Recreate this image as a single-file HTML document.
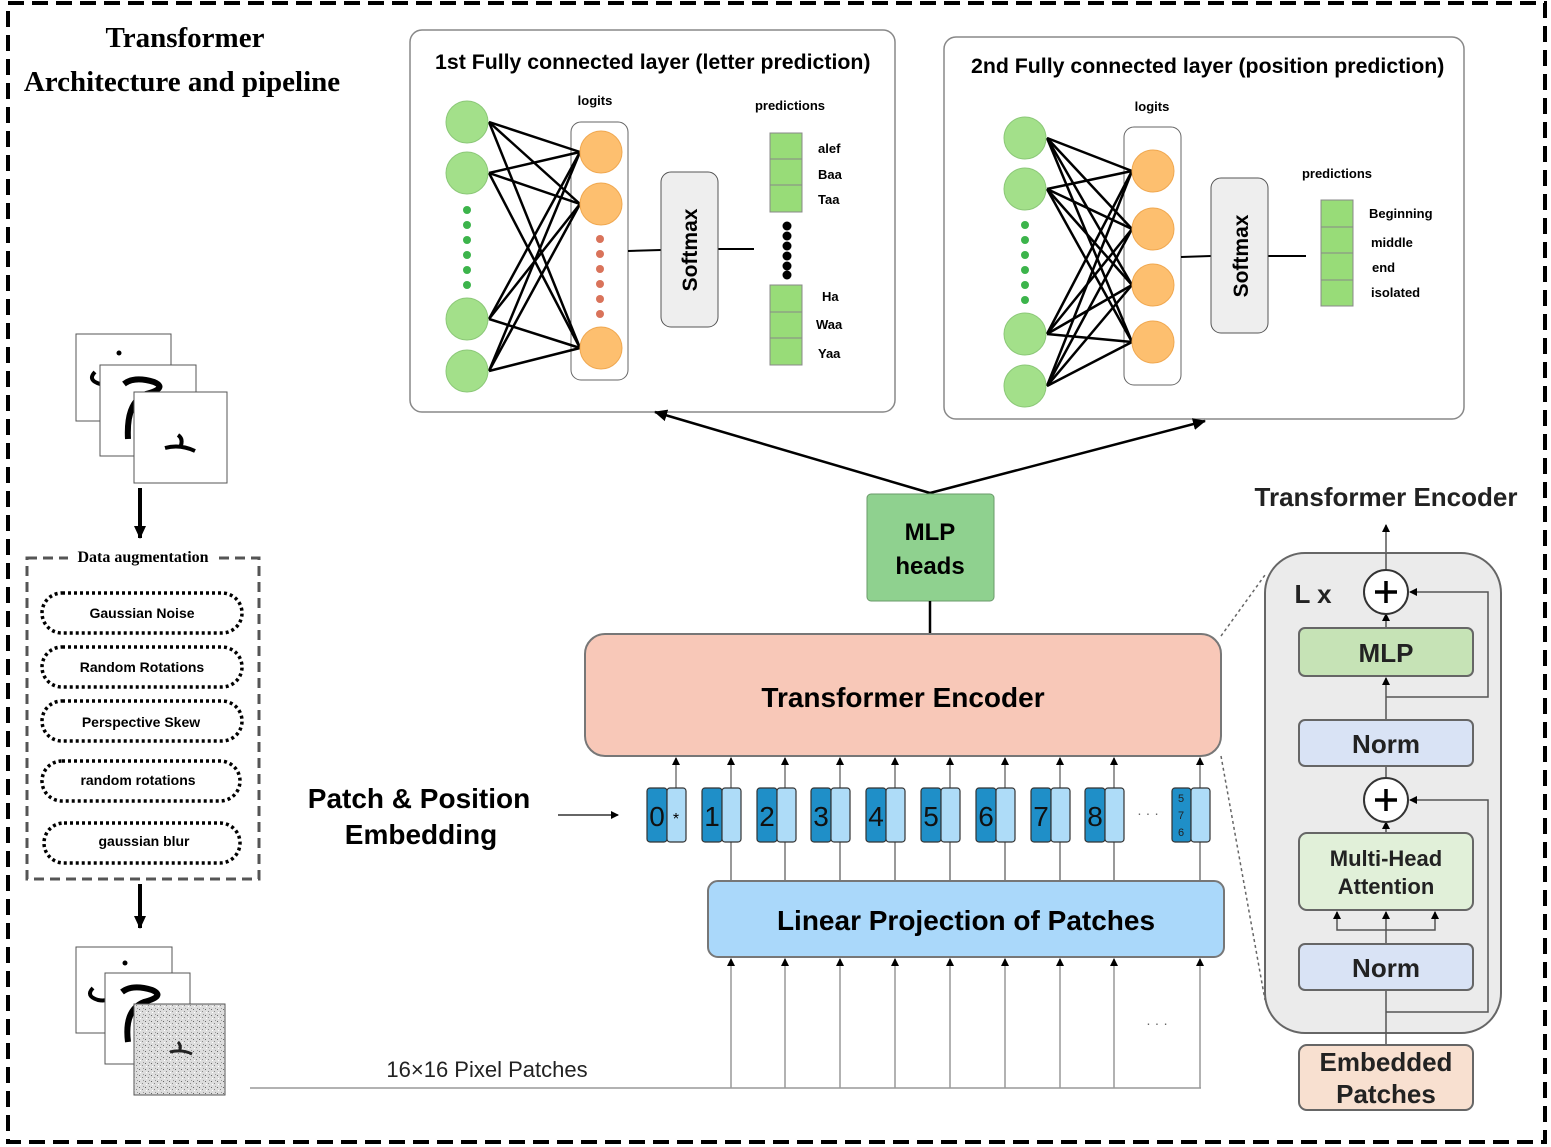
<!DOCTYPE html>
<html><head><meta charset="utf-8"><style>
html,body{margin:0;padding:0;background:#fff;}
svg{display:block;}
.s{font-family:"Liberation Sans",sans-serif;}
.r{font-family:"Liberation Serif",serif;}
</style></head><body>
<svg width="1551" height="1147" viewBox="0 0 1551 1147" xmlns="http://www.w3.org/2000/svg">
<defs>
<marker id="ah" markerWidth="8" markerHeight="8" refX="7" refY="4" orient="auto" markerUnits="userSpaceOnUse"><path d="M0,0 L8,4 L0,8 z" fill="#000"/></marker>
<marker id="ahb" markerWidth="14" markerHeight="14" refX="12" refY="7" orient="auto" markerUnits="userSpaceOnUse"><path d="M0,1 L13,7 L0,13 z" fill="#000"/></marker>
<pattern id="noise" width="6" height="6" patternUnits="userSpaceOnUse"><rect width="6" height="6" fill="#ddd"/><rect x="1" y="1" width="1" height="1" fill="#666"/><rect x="4" y="3" width="1" height="1" fill="#888"/><rect x="2" y="4" width="1" height="1" fill="#fff"/><rect x="5" y="0" width="1" height="1" fill="#999"/></pattern>
</defs>
<rect x="8" y="3" width="1537" height="1139" fill="none" stroke="#000" stroke-width="4" stroke-dasharray="16,8"/>

<text class="r" x="185" y="47" font-size="29" font-weight="bold" text-anchor="middle">Transformer</text>
<text class="r" x="182" y="91" font-size="29" font-weight="bold" text-anchor="middle">Architecture and pipeline</text>

<rect x="76" y="334" width="95" height="87" fill="#fff" stroke="#555"/>
<path d="M95,372 q-8,8 5,12 q10,2 15,-4" fill="none" stroke="#000" stroke-width="4"/>
<circle cx="119" cy="353" r="2.5"/>
<rect x="100" y="365" width="96" height="91" fill="#fff" stroke="#555"/>
<path d="M124,384 q10,-8 30,-2 q14,6 -8,12 q-20,8 -18,45" fill="none" stroke="#000" stroke-width="6"/>
<rect x="134" y="392" width="93" height="91" fill="#fff" stroke="#555"/>
<path d="M165,448 q15,-4 30,3 M178,435 q6,4 2,13" fill="none" stroke="#000" stroke-width="4"/>
<line x1="140" y1="488" x2="140" y2="538" stroke="#000" stroke-width="4" marker-end="url(#ahb)"/>

<rect x="27" y="558" width="232" height="321" fill="none" stroke="#555" stroke-width="3" stroke-dasharray="10,6"/>
<rect x="68" y="546" width="150" height="20" fill="#fff"/>
<text class="r" x="143" y="562" font-size="16" font-weight="bold" text-anchor="middle">Data augmentation</text>
<g stroke="#000" stroke-width="3.5" stroke-dasharray="3,3" fill="none">
<rect x="42" y="593" width="200" height="40" rx="20"/>
<rect x="42" y="647" width="200" height="40" rx="20"/>
<rect x="42" y="701" width="200" height="40" rx="20"/>
<rect x="42" y="761" width="198" height="40" rx="20"/>
<rect x="44" y="823" width="196" height="40" rx="20"/>
</g>
<g class="s" font-size="14" font-weight="bold" text-anchor="middle">
<text x="142" y="618">Gaussian Noise</text>
<text x="142" y="672">Random Rotations</text>
<text x="141" y="727">Perspective Skew</text>
<text x="138" y="785">random rotations</text>
<text x="144" y="846">gaussian blur</text>
</g>
<line x1="140" y1="884" x2="140" y2="928" stroke="#000" stroke-width="4" marker-end="url(#ahb)"/>

<rect x="76" y="947" width="96" height="86" fill="#fff" stroke="#555"/>
<path d="M93,988 q-8,8 5,12 q10,2 15,-4" fill="none" stroke="#000" stroke-width="4"/>
<circle cx="125" cy="963" r="2.5"/>
<rect x="105" y="973" width="85" height="91" fill="#fff" stroke="#555"/>
<path d="M122,992 q10,-8 30,-2 q14,6 -8,12 q-20,8 -16,40" fill="none" stroke="#000" stroke-width="6"/>
<rect x="134" y="1004" width="91" height="91" fill="url(#noise)" stroke="#555"/>
<path d="M170,1052 q12,-3 22,2 M178,1042 q4,4 1,10" fill="none" stroke="#222" stroke-width="3"/>

<rect x="410" y="30" width="485" height="382" rx="12" fill="#fff" stroke="#888" stroke-width="1.5"/>
<text class="s" x="435" y="69" font-size="21.3" font-weight="bold">1st Fully connected layer (letter prediction)</text>
<text class="s" x="595" y="105" font-size="13" font-weight="bold" text-anchor="middle">logits</text>
<text class="s" x="790" y="110" font-size="13" font-weight="bold" text-anchor="middle">predictions</text>
<rect x="571" y="122" width="57" height="258" rx="10" fill="#fff" stroke="#666"/>
<g stroke="#000" stroke-width="2.5">
<line x1="489" y1="122" x2="580" y2="152"/><line x1="489" y1="122" x2="580" y2="204"/><line x1="489" y1="122" x2="580" y2="348"/>
<line x1="489" y1="173" x2="580" y2="152"/><line x1="489" y1="173" x2="580" y2="204"/><line x1="489" y1="173" x2="580" y2="348"/>
<line x1="489" y1="319" x2="580" y2="152"/><line x1="489" y1="319" x2="580" y2="204"/><line x1="489" y1="319" x2="580" y2="348"/>
<line x1="489" y1="371" x2="580" y2="152"/><line x1="489" y1="371" x2="580" y2="204"/><line x1="489" y1="371" x2="580" y2="348"/>
</g>
<g fill="#a3e08a" stroke="#8cc878"><circle cx="467" cy="122" r="21"/><circle cx="467" cy="173" r="21"/><circle cx="467" cy="319" r="21"/><circle cx="467" cy="371" r="21"/></g>
<g fill="#3cb44b"><circle cx="467" cy="210" r="4"/><circle cx="467" cy="225" r="4"/><circle cx="467" cy="240" r="4"/><circle cx="467" cy="255" r="4"/><circle cx="467" cy="270" r="4"/><circle cx="467" cy="285" r="4"/></g>
<g fill="#fdbf6f" stroke="#f0a850"><circle cx="601" cy="152" r="21"/><circle cx="601" cy="204" r="21"/><circle cx="601" cy="348" r="21"/></g>
<g fill="#d9735a"><circle cx="600" cy="239" r="4"/><circle cx="600" cy="254" r="4"/><circle cx="600" cy="269" r="4"/><circle cx="600" cy="284" r="4"/><circle cx="600" cy="299" r="4"/><circle cx="600" cy="314" r="4"/></g>
<line x1="628" y1="251" x2="661" y2="250" stroke="#000" stroke-width="2"/>
<line x1="718" y1="249" x2="754" y2="249" stroke="#000" stroke-width="2"/>
<rect x="661" y="172" width="57" height="155" rx="10" fill="#eee" stroke="#555"/>
<text class="s" font-size="21" font-weight="bold" text-anchor="middle" transform="translate(697,250) rotate(-90)">Softmax</text>
<g fill="#98dc78" stroke="#888"><rect x="770" y="133" width="32" height="26"/><rect x="770" y="159" width="32" height="26"/><rect x="770" y="185" width="32" height="27"/>
<rect x="770" y="285" width="32" height="27"/><rect x="770" y="312" width="32" height="26"/><rect x="770" y="338" width="32" height="27"/></g>
<g fill="#000"><circle cx="787" cy="226" r="4.5"/><circle cx="787" cy="236" r="4.5"/><circle cx="787" cy="246" r="4.5"/><circle cx="787" cy="256" r="4.5"/><circle cx="787" cy="266" r="4.5"/><circle cx="787" cy="275" r="4.5"/></g>
<g class="s" font-size="13" font-weight="bold"><text x="818" y="153">alef</text><text x="818" y="179">Baa</text><text x="818" y="204">Taa</text><text x="822" y="301">Ha</text><text x="816" y="329">Waa</text><text x="818" y="358">Yaa</text></g>

<rect x="944" y="37" width="520" height="382" rx="12" fill="#fff" stroke="#888" stroke-width="1.5"/>
<text class="s" x="971" y="73" font-size="21.3" font-weight="bold">2nd Fully connected layer (position prediction)</text>
<text class="s" x="1152" y="111" font-size="13" font-weight="bold" text-anchor="middle">logits</text>
<text class="s" x="1337" y="178" font-size="13" font-weight="bold" text-anchor="middle">predictions</text>
<rect x="1124" y="127" width="57" height="258" rx="10" fill="#fff" stroke="#666"/>
<g stroke="#000" stroke-width="2.5">
<line x1="1047" y1="138" x2="1132" y2="171"/><line x1="1047" y1="138" x2="1132" y2="229"/><line x1="1047" y1="138" x2="1132" y2="285"/><line x1="1047" y1="138" x2="1132" y2="342"/>
<line x1="1047" y1="189" x2="1132" y2="171"/><line x1="1047" y1="189" x2="1132" y2="229"/><line x1="1047" y1="189" x2="1132" y2="285"/><line x1="1047" y1="189" x2="1132" y2="342"/>
<line x1="1047" y1="334" x2="1132" y2="171"/><line x1="1047" y1="334" x2="1132" y2="229"/><line x1="1047" y1="334" x2="1132" y2="285"/><line x1="1047" y1="334" x2="1132" y2="342"/>
<line x1="1047" y1="386" x2="1132" y2="171"/><line x1="1047" y1="386" x2="1132" y2="229"/><line x1="1047" y1="386" x2="1132" y2="285"/><line x1="1047" y1="386" x2="1132" y2="342"/>
</g>
<g fill="#a3e08a" stroke="#8cc878"><circle cx="1025" cy="138" r="21"/><circle cx="1025" cy="189" r="21"/><circle cx="1025" cy="334" r="21"/><circle cx="1025" cy="386" r="21"/></g>
<g fill="#3cb44b"><circle cx="1025" cy="225" r="4"/><circle cx="1025" cy="240" r="4"/><circle cx="1025" cy="255" r="4"/><circle cx="1025" cy="270" r="4"/><circle cx="1025" cy="285" r="4"/><circle cx="1025" cy="300" r="4"/></g>
<g fill="#fdbf6f" stroke="#f0a850"><circle cx="1153" cy="171" r="21"/><circle cx="1153" cy="229" r="21"/><circle cx="1153" cy="285" r="21"/><circle cx="1153" cy="342" r="21"/></g>
<line x1="1181" y1="257" x2="1211" y2="256" stroke="#000" stroke-width="2"/>
<line x1="1268" y1="256" x2="1306" y2="256" stroke="#000" stroke-width="2"/>
<rect x="1211" y="178" width="57" height="155" rx="10" fill="#eee" stroke="#555"/>
<text class="s" font-size="21" font-weight="bold" text-anchor="middle" transform="translate(1248,256) rotate(-90)">Softmax</text>
<g fill="#98dc78" stroke="#888"><rect x="1321" y="200" width="32" height="27"/><rect x="1321" y="227" width="32" height="26"/><rect x="1321" y="253" width="32" height="27"/><rect x="1321" y="280" width="32" height="26"/></g>
<g class="s" font-size="13" font-weight="bold"><text x="1369" y="218">Beginning</text><text x="1371" y="247">middle</text><text x="1372" y="272">end</text><text x="1371" y="297">isolated</text></g>

<line x1="930" y1="493" x2="655" y2="412" stroke="#000" stroke-width="2.5" marker-end="url(#ahb)"/>
<line x1="930" y1="493" x2="1205" y2="421" stroke="#000" stroke-width="2.5" marker-end="url(#ahb)"/>
<rect x="867" y="494" width="127" height="107" rx="4" fill="#8fd18f" stroke="#6a9a6a"/>
<text class="s" x="930" y="540" font-size="24" font-weight="bold" text-anchor="middle">MLP</text>
<text class="s" x="930" y="574" font-size="24" font-weight="bold" text-anchor="middle">heads</text>
<line x1="930" y1="601" x2="930" y2="634" stroke="#000" stroke-width="2.5"/>

<rect x="585" y="634" width="636" height="122" rx="20" fill="#f8c8b8" stroke="#777" stroke-width="2"/>
<text class="s" x="903" y="707" font-size="28" font-weight="bold" text-anchor="middle">Transformer Encoder</text>
<g stroke="#777" stroke-width="1.5" marker-end="url(#ah)">
<line x1="676" y1="788" x2="676" y2="758"/><line x1="731" y1="788" x2="731" y2="758"/><line x1="785" y1="788" x2="785" y2="758"/><line x1="840" y1="788" x2="840" y2="758"/><line x1="895" y1="788" x2="895" y2="758"/><line x1="950" y1="788" x2="950" y2="758"/><line x1="1005" y1="788" x2="1005" y2="758"/><line x1="1060" y1="788" x2="1060" y2="758"/><line x1="1114" y1="788" x2="1114" y2="758"/><line x1="1200" y1="788" x2="1200" y2="758"/>
</g>
<g stroke="#777" stroke-width="1.5">
<line x1="731" y1="842" x2="731" y2="881"/><line x1="785" y1="842" x2="785" y2="881"/><line x1="840" y1="842" x2="840" y2="881"/><line x1="895" y1="842" x2="895" y2="881"/><line x1="950" y1="842" x2="950" y2="881"/><line x1="1005" y1="842" x2="1005" y2="881"/><line x1="1060" y1="842" x2="1060" y2="881"/><line x1="1114" y1="842" x2="1114" y2="881"/><line x1="1200" y1="842" x2="1200" y2="881"/>
</g>
<g stroke="#333" stroke-width="1.2">
<rect x="647" y="788" width="20" height="54" rx="3" fill="#1f8fc8"/><rect x="667" y="788" width="19" height="54" rx="3" fill="#aedcf8"/>
<rect x="702" y="788" width="20" height="54" rx="3" fill="#1f8fc8"/><rect x="722" y="788" width="19" height="54" rx="3" fill="#aedcf8"/>
<rect x="757" y="788" width="20" height="54" rx="3" fill="#1f8fc8"/><rect x="777" y="788" width="19" height="54" rx="3" fill="#aedcf8"/>
<rect x="811" y="788" width="20" height="54" rx="3" fill="#1f8fc8"/><rect x="831" y="788" width="19" height="54" rx="3" fill="#aedcf8"/>
<rect x="866" y="788" width="20" height="54" rx="3" fill="#1f8fc8"/><rect x="886" y="788" width="19" height="54" rx="3" fill="#aedcf8"/>
<rect x="921" y="788" width="20" height="54" rx="3" fill="#1f8fc8"/><rect x="941" y="788" width="19" height="54" rx="3" fill="#aedcf8"/>
<rect x="976" y="788" width="20" height="54" rx="3" fill="#1f8fc8"/><rect x="996" y="788" width="19" height="54" rx="3" fill="#aedcf8"/>
<rect x="1031" y="788" width="20" height="54" rx="3" fill="#1f8fc8"/><rect x="1051" y="788" width="19" height="54" rx="3" fill="#aedcf8"/>
<rect x="1085" y="788" width="20" height="54" rx="3" fill="#1f8fc8"/><rect x="1105" y="788" width="19" height="54" rx="3" fill="#aedcf8"/>
<rect x="1172" y="788" width="19" height="54" rx="3" fill="#1f8fc8"/><rect x="1191" y="788" width="19" height="54" rx="3" fill="#aedcf8"/>
</g>
<g class="s" font-size="28" fill="#111" text-anchor="middle">
<text x="657" y="826">0</text><text x="712" y="826">1</text><text x="767" y="826">2</text><text x="821" y="826">3</text><text x="876" y="826">4</text><text x="931" y="826">5</text><text x="986" y="826">6</text><text x="1041" y="826">7</text><text x="1095" y="826">8</text>
</g>
<text class="s" x="676" y="824" font-size="16" text-anchor="middle">*</text>
<g class="s" font-size="11" fill="#222" text-anchor="middle"><text x="1181" y="802">5</text><text x="1181" y="819">7</text><text x="1181" y="836">6</text></g>
<text class="s" x="1148" y="818" font-size="14" fill="#666" text-anchor="middle">· · ·</text>

<text class="s" x="419" y="808" font-size="28" font-weight="bold" text-anchor="middle">Patch &amp; Position</text>
<text class="s" x="421" y="844" font-size="28" font-weight="bold" text-anchor="middle">Embedding</text>
<line x1="558" y1="815" x2="618" y2="815" stroke="#333" stroke-width="1.5" marker-end="url(#ah)"/>

<rect x="708" y="881" width="516" height="76" rx="10" fill="#aad8fa" stroke="#777" stroke-width="2"/>
<text class="s" x="966" y="930" font-size="28" font-weight="bold" text-anchor="middle">Linear Projection of Patches</text>
<g stroke="#999" stroke-width="1.5" marker-end="url(#ah)">
<line x1="731" y1="1088" x2="731" y2="959"/><line x1="785" y1="1088" x2="785" y2="959"/><line x1="840" y1="1088" x2="840" y2="959"/><line x1="895" y1="1088" x2="895" y2="959"/><line x1="950" y1="1088" x2="950" y2="959"/><line x1="1005" y1="1088" x2="1005" y2="959"/><line x1="1060" y1="1088" x2="1060" y2="959"/><line x1="1114" y1="1088" x2="1114" y2="959"/><line x1="1200" y1="1088" x2="1200" y2="959"/>
</g>
<line x1="250" y1="1088" x2="1201" y2="1088" stroke="#999" stroke-width="1.5"/>
<text class="s" x="487" y="1077" font-size="22" text-anchor="middle" fill="#222">16×16 Pixel Patches</text>
<text class="s" x="1157" y="1028" font-size="14" fill="#666" text-anchor="middle">·   ·   ·</text>

<line x1="1221" y1="636" x2="1265" y2="575" stroke="#666" stroke-width="1.5" stroke-dasharray="3,3"/>
<line x1="1221" y1="756" x2="1265" y2="1000" stroke="#666" stroke-width="1.5" stroke-dasharray="3,3"/>
<text class="s" x="1386" y="506" font-size="26" font-weight="bold" text-anchor="middle" fill="#222">Transformer Encoder</text>
<line x1="1386" y1="553" x2="1386" y2="525" stroke="#555" stroke-width="1.5" marker-end="url(#ah)"/>
<rect x="1265" y="553" width="236" height="480" rx="40" fill="#ebebeb" stroke="#666" stroke-width="2"/>
<text class="s" x="1313" y="603" font-size="26" font-weight="bold" text-anchor="middle" fill="#222">L x</text>
<g stroke="#555" stroke-width="1.5" fill="none">
<line x1="1386" y1="1045" x2="1386" y2="990"/>
<line x1="1386" y1="944" x2="1386" y2="912" marker-end="url(#ah)"/>
<polyline points="1386,930 1337,930 1337,912" marker-end="url(#ah)"/>
<polyline points="1386,930 1435,930 1435,912" marker-end="url(#ah)"/>
<line x1="1386" y1="833" x2="1386" y2="822" marker-end="url(#ah)"/>
<polyline points="1386,1012 1488,1012 1488,800 1410,800" marker-end="url(#ah)"/>
<line x1="1386" y1="778" x2="1386" y2="766"/>
<line x1="1386" y1="720" x2="1386" y2="678" marker-end="url(#ah)"/>
<line x1="1386" y1="628" x2="1386" y2="614" marker-end="url(#ah)"/>
<polyline points="1386,697 1488,697 1488,592 1410,592" marker-end="url(#ah)"/>
<line x1="1386" y1="570" x2="1386" y2="553"/>
</g>
<g stroke="#333" stroke-width="2" fill="#fff"><circle cx="1386" cy="592" r="22"/><circle cx="1386" cy="800" r="22"/></g>
<g stroke="#000" stroke-width="3.5"><line x1="1375" y1="592" x2="1397" y2="592"/><line x1="1386" y1="581" x2="1386" y2="603"/><line x1="1375" y1="800" x2="1397" y2="800"/><line x1="1386" y1="789" x2="1386" y2="811"/></g>
<rect x="1299" y="628" width="174" height="48" rx="6" fill="#c6e3b6" stroke="#666" stroke-width="2"/>
<rect x="1299" y="720" width="174" height="46" rx="6" fill="#d9e3f5" stroke="#666" stroke-width="2"/>
<rect x="1299" y="833" width="174" height="77" rx="8" fill="#e1f0d9" stroke="#666" stroke-width="2"/>
<rect x="1299" y="944" width="174" height="46" rx="6" fill="#d9e3f5" stroke="#666" stroke-width="2"/>
<rect x="1299" y="1045" width="174" height="65" rx="8" fill="#f8e0d0" stroke="#666" stroke-width="2"/>
<g class="s" font-weight="bold" text-anchor="middle" fill="#222">
<text x="1386" y="662" font-size="26">MLP</text>
<text x="1386" y="753" font-size="26">Norm</text>
<text x="1386" y="866" font-size="22">Multi-Head</text>
<text x="1386" y="894" font-size="22">Attention</text>
<text x="1386" y="977" font-size="26">Norm</text>
<text x="1386" y="1071" font-size="26">Embedded</text>
<text x="1386" y="1103" font-size="26">Patches</text>
</g>
</svg>
</body></html>
